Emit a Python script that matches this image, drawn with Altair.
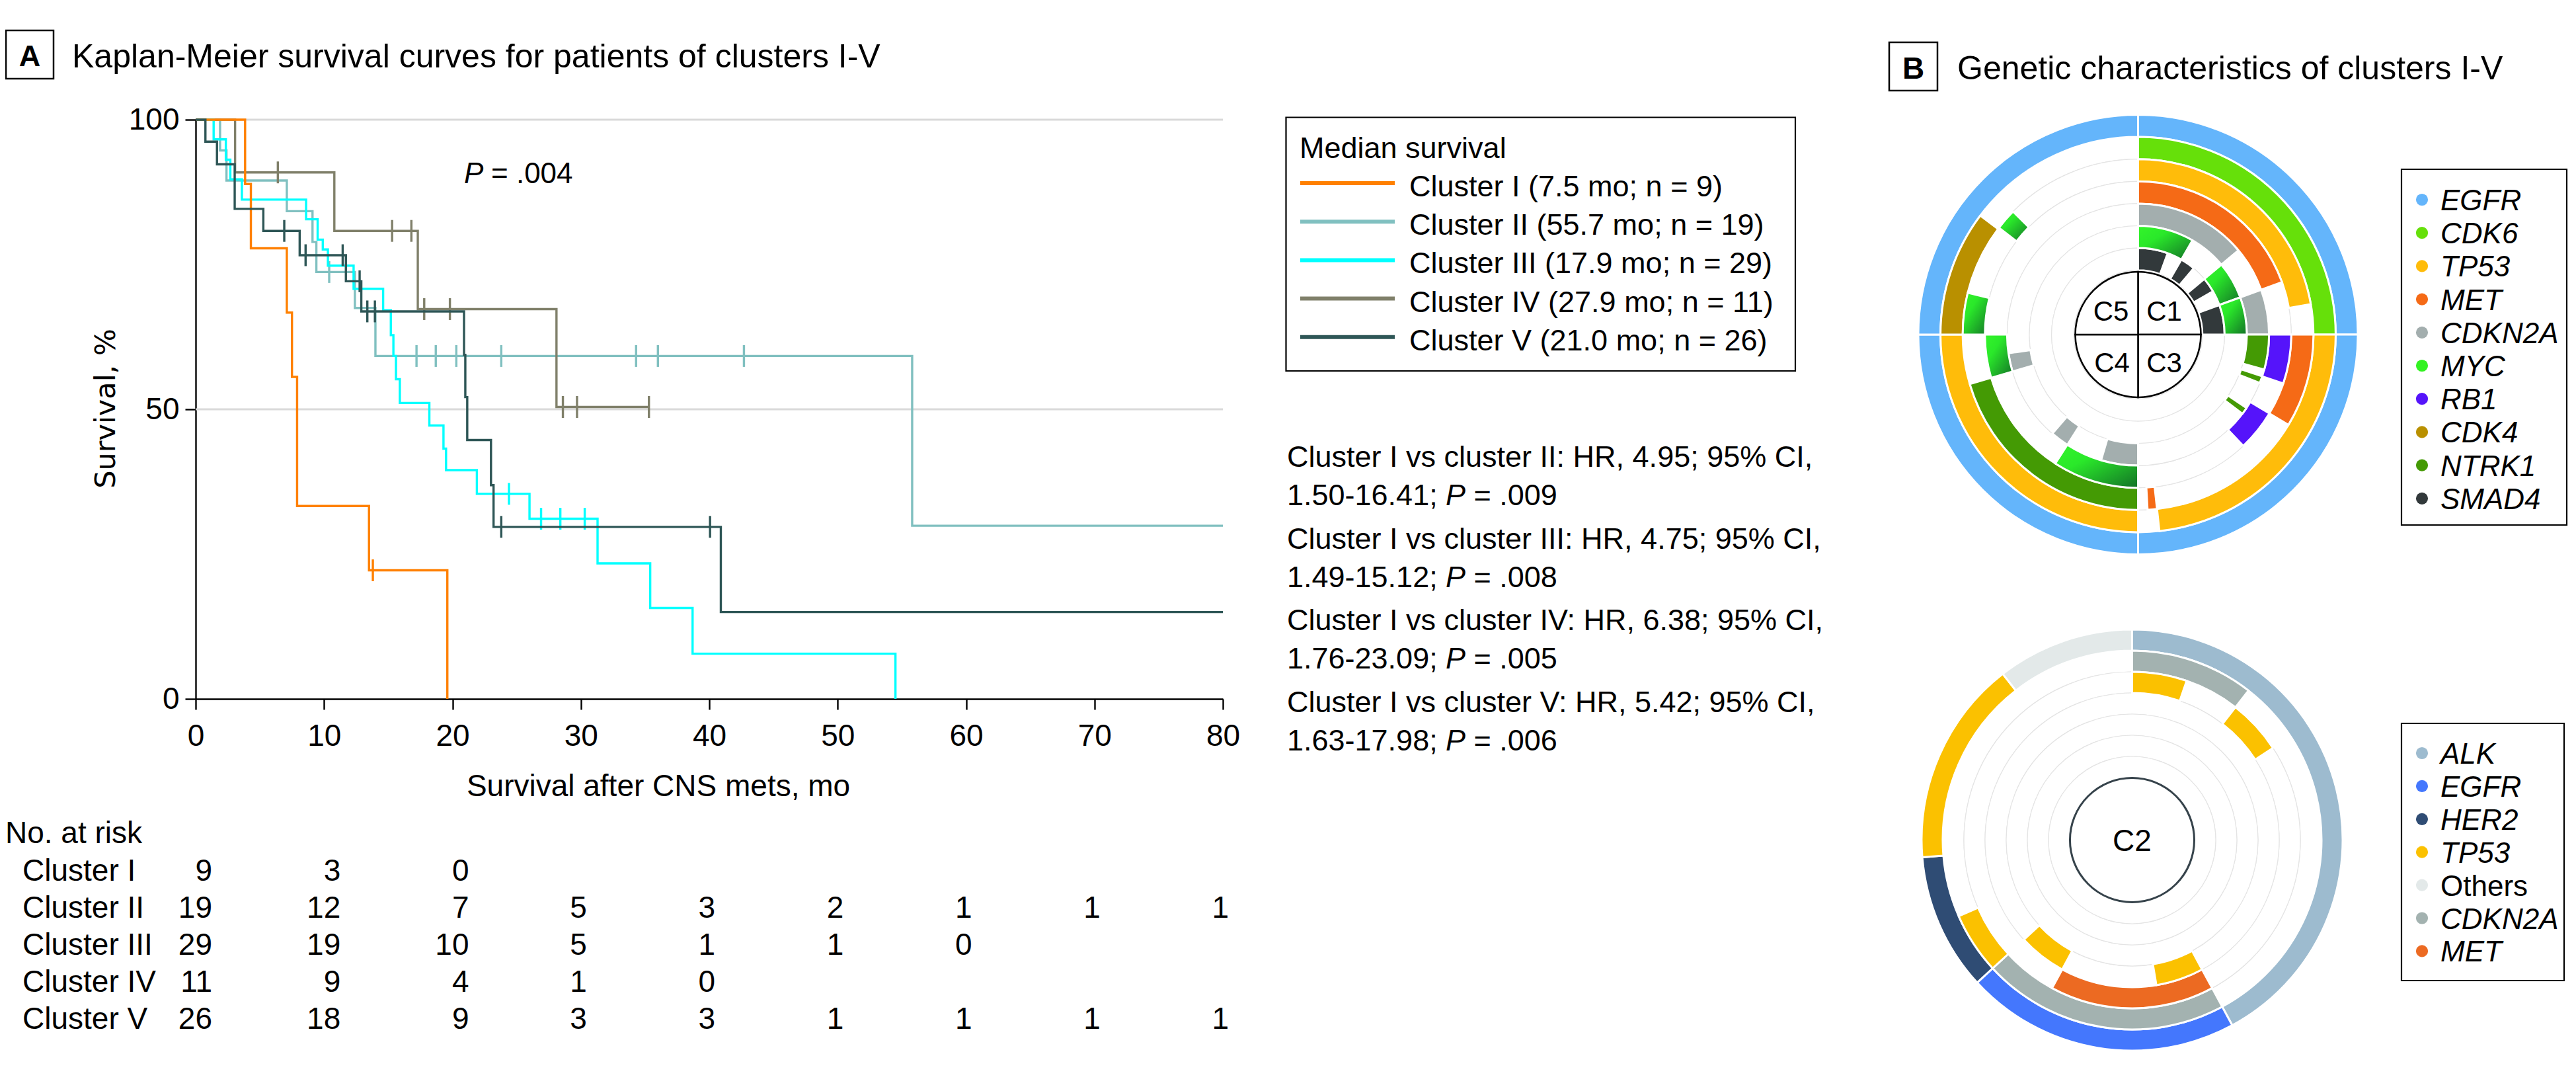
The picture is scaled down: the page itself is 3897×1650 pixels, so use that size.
import math
import altair as alt
import pandas as pd

W, H = 3881, 1634
F = "Liberation Sans"

# ---------------- Panel A data ----------------
clusters = ["Cluster I", "Cluster II", "Cluster III", "Cluster IV", "Cluster V"]
cluster_colors = ["#ff8000", "#80c0c0", "#00ffff", "#80806a", "#2e5656"]
legend_labels = ["Cluster I (7.5 mo; n = 9)", "Cluster II (55.7 mo; n = 19)",
                 "Cluster III (17.9 mo; n = 29)", "Cluster IV (27.9 mo; n = 11)",
                 "Cluster V (21.0 mo; n = 26)"]

km_t_I = [0, 3.85, 4.3, 7.1, 7.5, 7.9, 13.5, 19.6]
km_s_I = [100, 88.9, 77.8, 66.7, 55.6, 33.3, 22.2, 0]
cens_t_I = [13.8]
cens_s_I = [22.2]

km_t_II = [0, 1.9, 2.4, 7.1, 9.1, 9.4, 12.4, 14.0, 55.8, 80]
km_s_II = [100, 94.7, 89.5, 84.2, 78.9, 73.7, 67.5, 59.2, 29.9, 29.9]
cens_t_II = [10.4, 17.2, 18.7, 20.3, 23.8, 34.3, 36.0, 42.7]
cens_s_II = [73.7, 59.2, 59.2, 59.2, 59.2, 59.2, 59.2, 59.2]

km_t_III = [0, 1.4, 2.35, 2.7, 3.6, 8.6, 9.5, 9.9, 10.3, 12.3, 14.6, 15.2, 15.4, 15.6,
            15.9, 18.2, 19.3, 19.5, 21.9, 26.0, 31.3, 35.4, 38.7, 54.5]
km_s_III = [100, 96.6, 93.1, 89.7, 86.2, 82.8, 79.3, 77.6, 74.8, 70.8, 67.1, 62.8, 59.2, 55.2,
            51.1, 47.2, 43.2, 39.5, 35.4, 31.1, 23.4, 15.7, 7.8, 0]
cens_t_III = [24.4, 26.9, 28.4, 30.3]
cens_s_III = [35.4, 31.1, 31.1, 31.1]

km_t_IV = [0, 3.07, 10.8, 17.3, 28.1, 35.3]
km_s_IV = [100, 90.9, 80.8, 67.3, 50.4, 50.4]
cens_t_IV = [6.4, 15.3, 16.8, 17.8, 19.8, 28.6, 29.7, 35.3]
cens_s_IV = [90.9, 80.8, 80.8, 67.3, 67.3, 50.4, 50.4, 50.4]

km_t_V = [0, 0.76, 1.66, 3.04, 5.27, 8.1, 11.7, 12.9, 20.9, 21.0, 21.15, 23.0, 23.2, 40.9, 80]
km_s_V = [100, 96.2, 92.3, 84.6, 80.8, 76.6, 72.1, 66.9, 59.4, 52.1, 44.7, 36.9, 29.7, 15.0, 15.0]
cens_t_V = [6.9, 8.56, 11.45, 12.77, 13.37, 13.96, 23.8, 40.06]
cens_s_V = [80.8, 76.6, 76.6, 72.1, 66.9, 66.9, 29.7, 29.7]

x_ticks = [0, 10, 20, 30, 40, 50, 60, 70, 80]
y_ticks = [0, 50, 100]
grid_values = [50, 100]

risk_times = [0, 10, 20, 30, 40, 50, 60, 70, 80]
risk_I = [9, 3, 0]
risk_II = [19, 12, 7, 5, 3, 2, 1, 1, 1]
risk_III = [29, 19, 10, 5, 1, 1, 0]
risk_IV = [11, 9, 4, 1, 0]
risk_V = [26, 18, 9, 3, 3, 1, 1, 1, 1]

hr_main = ["Cluster I vs cluster II: HR, 4.95; 95% CI,",
           "Cluster I vs cluster III: HR, 4.75; 95% CI,",
           "Cluster I vs cluster IV: HR, 6.38; 95% CI,",
           "Cluster I vs cluster V: HR, 5.42; 95% CI,"]
hr_ci = ["1.50-16.41;", "1.49-15.12;", "1.76-23.09;", "1.63-17.98;"]
hr_p = ["= .009", "= .008", "= .005", "= .006"]

# ---------------- Panel B data ----------------
# (gene, ring, start angle deg, end angle deg), angle clockwise from 12 o'clock
arcs_C1 = [("EGFR", 1, 0, 90), ("CDK6", 2, 0, 90), ("TP53", 3, 0, 80), ("MET", 4, 0, 70),
           ("CDKN2A", 5, 0, 50), ("CDKN2A", 5, 70, 90),
           ("MYC", 6, 0, 30), ("MYC", 6, 50, 70), ("MYC", 6, 70, 90),
           ("SMAD4", 7, 0, 20), ("SMAD4", 7, 30, 40), ("SMAD4", 7, 50, 60), ("SMAD4", 7, 70, 90)]
arcs_C3 = [("EGFR", 1, 90, 180), ("TP53", 2, 90, 173.8),
           ("MET", 3, 90, 121.0), ("MET", 3, 173.8, 176.9),
           ("RB1", 4, 90, 108.6), ("RB1", 4, 121.0, 136.6),
           ("NTRK1", 5, 90, 105.5), ("NTRK1", 5, 108.6, 111.7), ("NTRK1", 5, 124.1, 127.2)]
arcs_C4 = [("EGFR", 1, 180, 270), ("TP53", 2, 180, 270), ("NTRK1", 3, 180, 253.6),
           ("MYC", 4, 180, 212.7), ("MYC", 4, 253.6, 270),
           ("CDKN2A", 5, 180, 196.4), ("CDKN2A", 5, 212.7, 220.9), ("CDKN2A", 5, 253.6, 261.8)]
arcs_C5 = [("EGFR", 1, 270, 360), ("CDK4", 2, 270, 307),
           ("MYC", 3, 270, 283.8), ("MYC", 3, 307.5, 314.5)]
arcs_C2 = [("ALK", 1, 0, 151.6), ("EGFR", 1, 151.6, 227.4), ("HER2", 1, 227.4, 265.3),
           ("TP53", 1, 265.3, 322.1), ("Others", 1, 322.1, 360),
           ("CDKN2A", 2, 0, 37.9), ("CDKN2A", 2, 151.6, 227.4), ("TP53", 2, 227.4, 246.3),
           ("TP53", 3, 0, 18.9), ("TP53", 3, 37.9, 56.8), ("MET", 3, 151.6, 208.4),
           ("TP53", 4, 151.6, 170.5), ("TP53", 4, 208.4, 227.4)]

genes_top = ["EGFR", "CDK6", "TP53", "MET", "CDKN2A", "MYC", "RB1", "CDK4", "NTRK1", "SMAD4"]
colors_top = ["#64b5fb", "#66e00a", "#ffbc0a", "#f56a16", "#a3aeae", "#33f222", "#5514fa",
              "#b99000", "#449a04", "#32393b"]
genes_c2 = ["ALK", "EGFR", "HER2", "TP53", "Others", "CDKN2A", "MET"]
colors_c2 = ["#9dbbcf", "#4477fd", "#2f4c74", "#fbc100", "#e3e9e9", "#a3b2b0", "#ec6a22"]

# ---------------- helpers ----------------
one = pd.DataFrame({"k": [0]})
layers = []


def txt(s, x, y, size=45, align="left", baseline="alphabetic", font=F, style="normal",
        weight="normal", angle=0, color="#000000"):
    return alt.Chart(one).mark_text(text=s, align=align, baseline=baseline, font=font,
                                    fontSize=size, fontStyle=style, fontWeight=weight,
                                    angle=angle, color=color).encode(
        x=alt.value(x), y=alt.value(y))


def box(x0, y0, x1, y1, sw=2.5):
    return alt.Chart(one).mark_rect(fill="#ffffff", fillOpacity=0, stroke="#000000",
                                    strokeWidth=sw).encode(
        x=alt.value(x0), x2=alt.value(x1), y=alt.value(y0), y2=alt.value(y1))


# ---------------- Panel A: KM plot ----------------
X0, X1, Y0, Y1 = 288, 1842, 1049, 173
xs = alt.Scale(domain=[0, 80], range=[X0, X1], nice=False, zero=False)
ys = alt.Scale(domain=[0, 100], range=[Y0, Y1], nice=False, zero=False)
xaxis = alt.Axis(values=x_ticks, title=None, grid=False, orient="bottom", offset=-(H - Y0),
                 tickSize=16, tickWidth=2.4, tickColor="#000000", domainColor="#000000",
                 domainWidth=2.4, labelFont=F, labelFontSize=46, labelColor="#000000",
                 labelPadding=18, labelFlush=False, labelOverlap=False)
yaxis = alt.Axis(values=y_ticks, title=None, grid=False, orient="left", offset=-X0,
                 tickSize=16, tickWidth=2.4, tickColor="#000000", domainColor="#000000",
                 domainWidth=2.4, labelFont=F, labelFontSize=46, labelColor="#000000",
                 labelPadding=9, labelFlush=False, labelOverlap=False)


def X(f):
    return alt.X(f, scale=xs, axis=xaxis)


def Y(f):
    return alt.Y(f, scale=ys, axis=yaxis)


layers.append(alt.Chart(pd.DataFrame({"v": grid_values})).mark_rule(
    color="#d9d9d9", strokeWidth=3).encode(y=Y("v:Q"), x=alt.value(X0), x2=alt.value(X1)))

series = {
    "Cluster I": (km_t_I, km_s_I, cens_t_I, cens_s_I),
    "Cluster II": (km_t_II, km_s_II, cens_t_II, cens_s_II),
    "Cluster III": (km_t_III, km_s_III, cens_t_III, cens_s_III),
    "Cluster IV": (km_t_IV, km_s_IV, cens_t_IV, cens_s_IV),
    "Cluster V": (km_t_V, km_s_V, cens_t_V, cens_s_V),
}
draw_order = ["Cluster II", "Cluster IV", "Cluster III", "Cluster I", "Cluster V"]
for name in draw_order:
    col = cluster_colors[clusters.index(name)]
    t, s, ct, cs = series[name]
    df = pd.DataFrame({"t": t, "s": s, "i": list(range(len(t)))})
    layers.append(alt.Chart(df).mark_line(interpolate="step-after", color=col,
                                          strokeWidth=3.4).encode(
        x=X("t:Q"), y=Y("s:Q"), order="i:Q"))
    dfc = pd.DataFrame({"t": ct, "s": cs})
    layers.append(alt.Chart(dfc).mark_tick(orient="vertical", size=33, thickness=3.4,
                                           color=col, opacity=1).encode(
        x=X("t:Q"), y=Y("s:Q")))

# P value
layers.append(txt("P", 694, 269, size=44, style="italic"))
layers.append(txt("= .004", 694 + 29 + 12, 269, size=44))

# axis titles
layers.append(txt("Survival, %", 166, 610, size=43, align="center", font="DejaVu Sans",
                  angle=270))
layers.append(txt("Survival after CNS mets, mo", 988, 1196, size=46, align="center"))

# Title A
layers.append(box(1, 38, 73, 111))
layers.append(txt("A", 37, 91.5, size=45, align="center", weight="bold"))
layers.append(txt("Kaplan-Meier survival curves for patients of clusters I-V", 101, 94, size=50))

# legend A
layers.append(box(1937.5, 169.5, 2708, 553, sw=2.2))
layers.append(txt("Median survival", 1958, 231, size=45))
for i, (lab, col) in enumerate(zip(legend_labels, cluster_colors)):
    yb = 289 + 58.2 * i
    layers.append(alt.Chart(one).mark_rule(color=col, strokeWidth=6).encode(
        x=alt.value(1959), x2=alt.value(2102), y=alt.value(yb - 20)))
    layers.append(txt(lab, 2124, yb, size=45))

# HR text
for k in range(4):
    yb = 698 + 123.5 * k
    layers.append(txt(hr_main[k], 1939, yb, size=45))
    layers.append(txt(hr_ci[k], 1939, yb + 58, size=45))
    layers.append(txt("P", 1939 + 240, yb + 58, size=45, style="italic"))
    layers.append(txt(hr_p[k], 1939 + 240 + 30 + 12.5, yb + 58, size=45))

# risk table
layers.append(txt("No. at risk", 0, 1267, size=46))
risk_rows = [risk_I, risk_II, risk_III, risk_IV, risk_V]
for r, (name, counts) in enumerate(zip(clusters, risk_rows)):
    yb = 1324 + 55.9 * r
    layers.append(txt(name, 26, yb, size=46))
    df = pd.DataFrame({"t": risk_times[:len(counts)], "n": counts})
    for sub, dx in ((df[df.t <= 20], 25), (df[df.t > 20], 9)):
        if len(sub):
            layers.append(alt.Chart(sub).mark_text(align="right", baseline="alphabetic",
                                                   dx=dx, font=F, fontSize=46,
                                                   color="#000000").encode(
                x=X("t:Q"), y=alt.value(yb), text="n:Q"))

# ---------------- Panel B ----------------
ts = alt.Scale(domain=[0, 360], range=[0, 2 * math.pi], zero=True, nice=False)
CX1, CY1 = 3226.5, 498.0
CX2, CY2 = 3217.5, 1262.5
TOP_OUT, TOP_PITCH = 332.5, 33.6
BOT_OUT, BOT_PITCH = 318.5, 32.0


def rows_for(arcs, colors_map, outer, pitch):
    out = []
    for g, ring, a0, a1 in arcs:
        ro = outer - pitch * (ring - 1)
        out.append({"gene": g, "a0": a0, "a1": a1, "ro": ro, "ri": ro - pitch,
                    "col": colors_map[g]})
    return pd.DataFrame(out)


def arc_enc(cx, cy):
    return dict(x=alt.value(cx), y=alt.value(cy),
                theta=alt.Theta("a0:Q", scale=ts, stack=None), theta2=alt.Theta2("a1:Q"),
                radius=alt.Radius("ro:Q", scale=None, stack=None), radius2=alt.Radius2("ri:Q"))


def background(cx, cy, outer, pitch):
    df = pd.DataFrame([{"a0": 0, "a1": 360, "ro": outer - pitch * k, "ri": outer - pitch * (k + 1)}
                       for k in range(7)])
    return alt.Chart(df).mark_arc(fill="#ffffff", stroke="#e4e4e4", strokeWidth=1.2).encode(
        **arc_enc(cx, cy))


myc_grad = alt.LinearGradient(gradient="linear",
                              stops=[alt.GradientStop(color="#33f52a", offset=0),
                                     alt.GradientStop(color="#2ae82a", offset=0.35),
                                     alt.GradientStop(color="#137227", offset=1)],
                              x1=0, y1=0, x2=1, y2=1)

cmap_top = dict(zip(genes_top, colors_top))
cmap_c2 = dict(zip(genes_c2, colors_c2))

layers.append(background(CX1, CY1, TOP_OUT, TOP_PITCH))
top_df = rows_for(arcs_C1 + arcs_C3 + arcs_C4 + arcs_C5, cmap_top, TOP_OUT, TOP_PITCH)
layers.append(alt.Chart(top_df[top_df.gene != "MYC"]).mark_arc(
    stroke="#ffffff", strokeWidth=3).encode(color=alt.Color("col:N", scale=None),
                                             **arc_enc(CX1, CY1)))
layers.append(alt.Chart(top_df[top_df.gene == "MYC"]).mark_arc(
    fill=myc_grad, stroke="#ffffff", strokeWidth=3).encode(**arc_enc(CX1, CY1)))
quad = pd.DataFrame({"a0": [0, 90, 180, 270], "a1": [90, 180, 270, 360],
                     "ro": [95] * 4, "ri": [0] * 4})
layers.append(alt.Chart(quad).mark_arc(fill="#ffffff", stroke="#000000", strokeWidth=2.6).encode(
    **arc_enc(CX1, CY1)))
for lab, dx, yb in (("C5", -41, 477), ("C1", 39.5, 477), ("C4", -39.5, 555), ("C3", 39.5, 555)):
    layers.append(txt(lab, CX1 + dx, yb, size=42, align="center"))

layers.append(background(CX2, CY2, BOT_OUT, BOT_PITCH))
c2_df = rows_for(arcs_C2, cmap_c2, BOT_OUT, BOT_PITCH)
layers.append(alt.Chart(c2_df).mark_arc(stroke="#ffffff", strokeWidth=3).encode(
    color=alt.Color("col:N", scale=None), **arc_enc(CX2, CY2)))
center2 = pd.DataFrame({"a0": [0], "a1": [360], "ro": [94], "ri": [0]})
layers.append(alt.Chart(center2).mark_arc(fill="#ffffff", stroke="#36434b", strokeWidth=3).encode(
    **arc_enc(CX2, CY2)))
layers.append(txt("C2", CX2, 1279, size=46, align="center"))

# Title B
layers.append(box(2850, 56, 2923, 129))
layers.append(txt("B", 2886.5, 111, size=46, align="center", weight="bold"))
layers.append(txt("Genetic characteristics of clusters I-V", 2953, 112, size=50))

# legends B
layers.append(box(3625, 248, 3875, 786, sw=2.2))
for i, (g, c) in enumerate(zip(genes_top, colors_top)):
    yb = 310 + 50.2 * i
    layers.append(alt.Chart(one).mark_point(filled=True, shape="circle", size=330, color=c,
                                            opacity=1).encode(x=alt.value(3656), y=alt.value(yb - 16)))
    layers.append(txt(g, 3684, yb, size=44, style="italic"))

layers.append(box(3625, 1086, 3871, 1475, sw=2.2))
for i, (g, c) in enumerate(zip(genes_c2, colors_c2)):
    yb = 1147 + 49.9 * i
    layers.append(alt.Chart(one).mark_point(filled=True, shape="circle", size=330, color=c,
                                            opacity=1).encode(x=alt.value(3656), y=alt.value(yb - 16)))
    layers.append(txt(g, 3684, yb, size=44, style="normal" if g == "Others" else "italic"))

chart = alt.layer(*layers).properties(
    width=W, height=H, padding=0, autosize=alt.AutoSizeParams(type="none")
).configure_view(stroke=None)

chart.save("out.html", embed_options={"renderer": "svg", "actions": False})
